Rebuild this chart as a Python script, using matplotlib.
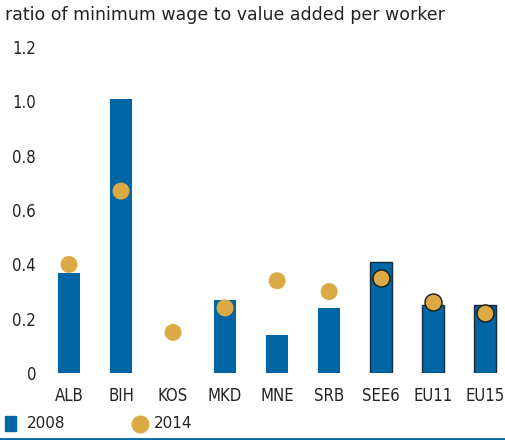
import matplotlib.pyplot as plt
import numpy as np
from matplotlib.lines import Line2D
from matplotlib.patches import Rectangle
from matplotlib.font_manager import FontProperties

countries = ['ALB', 'BIH', 'KOS', 'MKD', 'MNE', 'SRB', 'SEE6', 'EU11', 'EU15']
val_2008 = [0.37, 1.01, np.nan, 0.27, 0.14, 0.24, 0.41, 0.25, 0.25]
val_2014 = [0.40, 0.67, 0.15, 0.24, 0.34, 0.30, 0.35, 0.26, 0.22]
outlined = ['SEE6', 'EU11', 'EU15']

blue = '#0066a6'
gold = '#dcaa45'
tickfont = FontProperties(family='DejaVu Sans', stretch='condensed', size=12)

fig = plt.figure(figsize=(5.06, 4.4), dpi=100)
ax = fig.add_axes([0.085, 0.152, 0.915, 0.741])

x = np.arange(len(countries))
for i, c in enumerate(countries):
    edge = '#1a2a3a' if c in outlined else 'none'
    if not np.isnan(val_2008[i]):
        ax.bar(x[i], val_2008[i], width=0.42, color=blue, edgecolor=edge, linewidth=1.0)
    ax.scatter(x[i], val_2014[i], s=150, color=gold, zorder=3,
               edgecolors='#1a1a1a' if c in outlined else 'none', linewidths=1.0)

ax.set_xlim(-0.5, 8.4)
ax.set_ylim(0, 1.2)
ax.set_yticks(np.arange(0, 1.21, 0.2))
ax.set_yticklabels(['0', '0.2', '0.4', '0.6', '0.8', '1.0', '1.2'])
ax.set_xticks(x)
ax.set_xticklabels(countries)
for lab in ax.get_xticklabels() + ax.get_yticklabels():
    lab.set_fontproperties(tickfont)
ax.tick_params(length=0, colors='#222222')
ax.tick_params(axis='x', pad=10)
ax.tick_params(axis='y', pad=5)
for s in ax.spines.values():
    s.set_visible(False)

fig.text(0.01, 0.965, 'ratio of minimum wage to value added per worker', fontsize=12.5,
         color='#222222', va='center')

# legend
fig.patches.append(Rectangle((0.01, 0.02), 0.022, 0.035, transform=fig.transFigure, color=blue))
fig.text(0.053, 0.037, '2008', fontsize=11, va='center', color='#222222')
fig.lines.append(Line2D([0.277], [0.037], transform=fig.transFigure, marker='o',
                        markersize=12, color=gold, linestyle='none'))
fig.text(0.305, 0.037, '2014', fontsize=11, va='center', color='#222222')
fig.lines.append(Line2D([0, 1], [0.003, 0.003], transform=fig.transFigure, color=blue, linewidth=2))

fig.savefig('out.png', dpi=100)
